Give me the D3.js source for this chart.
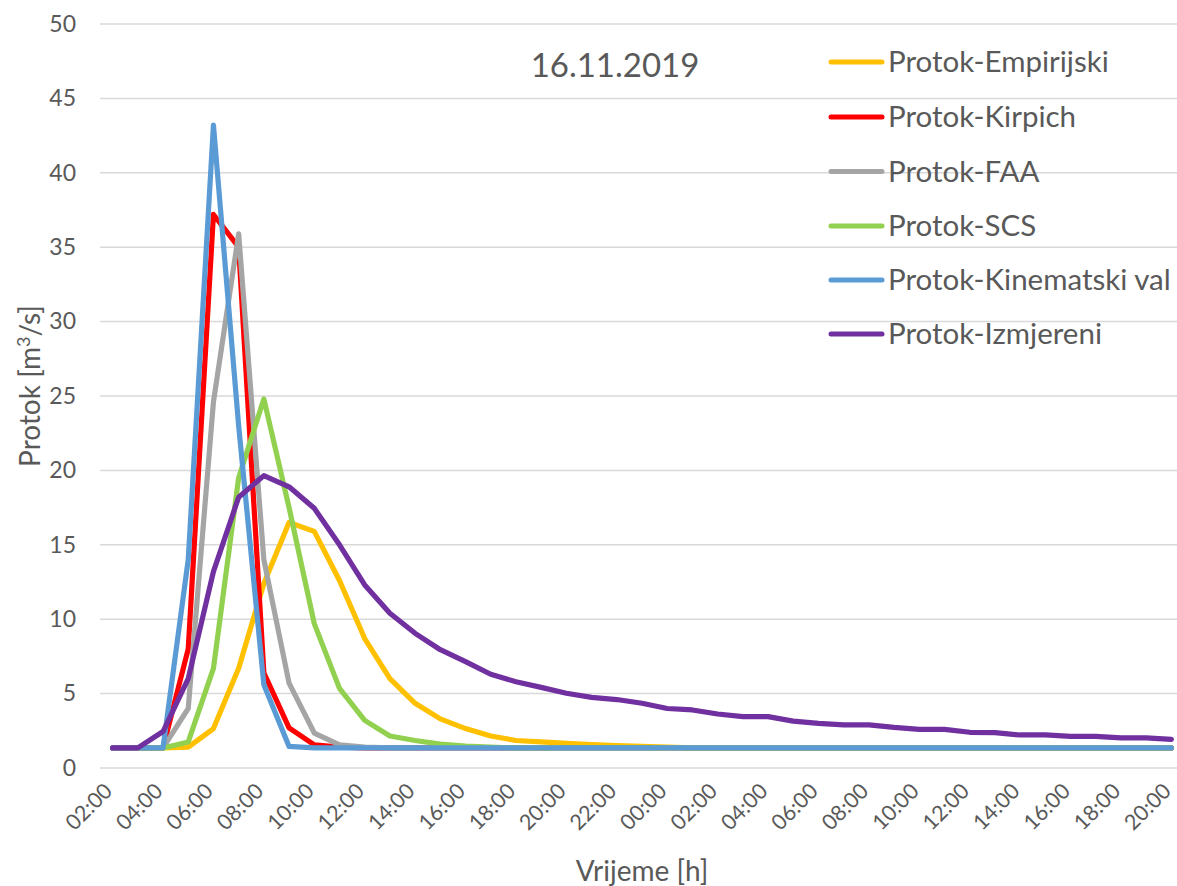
<!DOCTYPE html>
<html><head><meta charset="utf-8">
<script src="https://cdn.jsdelivr.net/npm/d3@7"></script>
<style>
body{margin:0;background:#fff}
svg{display:block}
text{font-family:Lato, "Open Sans", sans-serif; fill:#595959}
</style>
</head><body>
<svg id="c" width="1177" height="886"></svg>
<script>
// ---- data ----
const times = ["02:00","03:00","04:00","05:00","06:00","07:00","08:00","09:00","10:00","11:00","12:00","13:00","14:00","15:00","16:00","17:00","18:00","19:00","20:00","21:00","22:00","23:00",
               "00:00","01:00","02:00","03:00","04:00","05:00","06:00","07:00","08:00","09:00","10:00","11:00","12:00","13:00","14:00","15:00","16:00","17:00","18:00","19:00","20:00"];
const empirijski = [1.35,1.35,1.35,1.4,2.65,6.7,12.4,16.5,15.9,12.6,8.7,6.0,4.35,3.3,2.65,2.15,1.85,1.75,1.65,1.58,1.5,1.45,1.4,1.35,1.35,1.35,1.35,1.35,1.35,1.35,1.35,1.35,1.35,1.35,1.35,1.35,1.35,1.35,1.35,1.35,1.35,1.35,1.35];
const kirpich    = [1.35,1.35,1.35,8.0,37.2,35.0,6.4,2.7,1.55,1.4,1.35,1.35,1.35,1.35,1.35,1.35,1.35,1.35,1.35,1.35,1.35,1.35,1.35,1.35,1.35,1.35,1.35,1.35,1.35,1.35,1.35,1.35,1.35,1.35,1.35,1.35,1.35,1.35,1.35,1.35,1.35,1.35,1.35];
const faa        = [1.35,1.35,1.35,4.0,24.6,35.9,14.0,5.7,2.35,1.55,1.4,1.35,1.35,1.35,1.35,1.35,1.35,1.35,1.35,1.35,1.35,1.35,1.35,1.35,1.35,1.35,1.35,1.35,1.35,1.35,1.35,1.35,1.35,1.35,1.35,1.35,1.35,1.35,1.35,1.35,1.35,1.35,1.35];
const scs        = [1.35,1.35,1.35,1.75,6.7,19.5,24.8,17.5,9.7,5.35,3.2,2.15,1.85,1.6,1.48,1.4,1.35,1.35,1.35,1.35,1.35,1.35,1.35,1.35,1.35,1.35,1.35,1.35,1.35,1.35,1.35,1.35,1.35,1.35,1.35,1.35,1.35,1.35,1.35,1.35,1.35,1.35,1.35];
const kinematski = [1.35,1.35,1.35,14.0,43.2,23.0,5.6,1.45,1.35,1.35,1.35,1.35,1.35,1.35,1.35,1.35,1.35,1.35,1.35,1.35,1.35,1.35,1.35,1.35,1.35,1.35,1.35,1.35,1.35,1.35,1.35,1.35,1.35,1.35,1.35,1.35,1.35,1.35,1.35,1.35,1.35,1.35,1.35];
const izmjereni  = [1.35,1.35,2.45,6.0,13.2,18.2,19.65,18.9,17.45,15.0,12.3,10.4,9.05,7.95,7.15,6.3,5.8,5.42,5.02,4.75,4.6,4.35,4.0,3.9,3.63,3.45,3.45,3.15,3.0,2.9,2.9,2.73,2.6,2.6,2.4,2.38,2.22,2.22,2.12,2.12,2.03,2.03,1.92];
const seriesNames = ["Protok-Empirijski","Protok-Kirpich","Protok-FAA","Protok-SCS","Protok-Kinematski val","Protok-Izmjereni"];
const yTicks = [0,5,10,15,20,25,30,35,40,45,50];
const titleText = "16.11.2019";
const xTitle = "Vrijeme [h]";

// ---- styles ----
const colors = ["#FFC000","#FF0000","#A5A5A5","#92D050","#5B9BD5","#7030A0"];
const seriesValues = [empirijski,kirpich,faa,scs,kinematski,izmjereni];

const svg = d3.select("#c");
const x = d3.scalePoint().domain(d3.range(times.length)).range([100,1184]).padding(0.5);
const y = d3.scaleLinear().domain([0,50]).range([768,24]);

// gridlines
svg.append("g").selectAll("line").data(yTicks).join("line")
  .attr("x1",100).attr("x2",1184)
  .attr("y1",d=>y(d)).attr("y2",d=>y(d))
  .attr("stroke","#D9D9D9").attr("stroke-width",1.5);

// y axis labels
const ya = svg.append("g").attr("transform","translate(100,0)")
  .call(d3.axisLeft(y).tickValues(yTicks).tickSize(0).tickPadding(24));
ya.select(".domain").remove();
ya.selectAll("text").attr("font-size",23).attr("font-family","Lato").attr("fill","#595959");

// x axis labels
const xa = svg.append("g").attr("transform","translate(0,768)")
  .call(d3.axisBottom(x).tickValues(d3.range(0,times.length,2)).tickFormat(i=>times[i]).tickSize(0));
xa.select(".domain").remove();
xa.selectAll("text")
  .attr("font-size",21.5).attr("font-family","Lato").attr("fill","#595959")
  .attr("text-anchor","end")
  .attr("dy","0.35em")
  .attr("transform","translate(-7,17) rotate(-45)");

// lines
const line = d3.line().x((d,i)=>x(i)).y(d=>y(d));
svg.append("g").selectAll("path").data(seriesValues).join("path")
  .attr("d",line).attr("fill","none")
  .attr("stroke",(d,i)=>colors[i]).attr("stroke-width",5.2)
  .attr("stroke-linejoin","round").attr("stroke-linecap","round");

// title
svg.append("text").attr("x",615).attr("y",77).attr("text-anchor","middle")
  .attr("font-size",33).text(titleText);

// axis titles
svg.append("text").attr("x",642).attr("y",881).attr("text-anchor","middle")
  .attr("font-size",28).text(xTitle);
const yt = svg.append("text").attr("transform","translate(40,386) rotate(-90)").attr("text-anchor","middle")
  .attr("font-size",28);
yt.append("tspan").text("Protok [m");
yt.append("tspan").attr("font-size",18).attr("dy",-10).text("3");
yt.append("tspan").attr("dy",10).text("/s]");

// legend
const lg = svg.append("g");
const legY = [62,117,171.5,226,280,334];
seriesNames.forEach((n,i)=>{
  lg.append("line").attr("x1",831).attr("x2",882).attr("y1",legY[i]).attr("y2",legY[i])
    .attr("stroke",colors[i]).attr("stroke-width",5).attr("stroke-linecap","round");
  lg.append("text").attr("x",888).attr("y",legY[i]).attr("dy","0.35em").attr("font-size",29.5).text(n);
});
</script>
</body></html>
